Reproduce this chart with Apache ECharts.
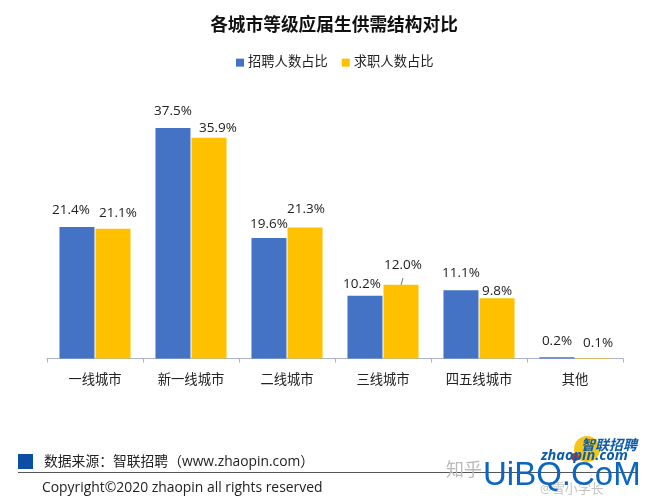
<!DOCTYPE html>
<html>
<head>
<meta charset="utf-8">
<style>html,body{margin:0;padding:0;background:#fff}#main{width:650px;height:500px}</style>
<script src="https://cdn.jsdelivr.net/npm/echarts@6/dist/echarts.min.js"></script>
</head>
<body>
<div id="main"></div>
<script>
var categories = ['一线城市', '新一线城市', '二线城市', '三线城市', '四五线城市', '其他'];
var recruitShare = [21.4, 37.5, 19.6, 10.2, 11.1, 0.2];
var seekerShare = [21.1, 35.9, 21.3, 12.0, 9.8, 0.1];
var seriesNames = ['招聘人数占比', '求职人数占比'];

// 标签手动错开，和原图一样
var recruitLabelShift = [[-6, -5], [0, -5], [0, -2], [-3, 0], [0, -5], [0, -4]];
var seekerLabelShift = [[5, -4], [9, 2], [1, -7], [2, -8], [0, 5], [5, -3]];

var cjk = '"Open Sans", "Noto Sans CJK SC", sans-serif';

function withLabels(values, shifts) {
    return values.map(function (v, i) {
        return {value: v, label: {offset: shifts[i]}};
    });
}

var myChart = echarts.init(document.getElementById('main'));
myChart.setOption({
    animation: false,
    backgroundColor: '#fff',
    title: {
        text: '各城市等级应届生供需结构对比',
        left: 329,
        textAlign: 'center',
        top: 12,
        textStyle: {fontFamily: cjk, fontSize: 17.7, fontWeight: 'bold', color: '#111'}
    },
    legend: {
        data: seriesNames,
        top: 51,
        left: 231,
        icon: 'rect',
        itemWidth: 8,
        itemHeight: 8,
        itemGap: 14,
        textStyle: {fontFamily: cjk, fontSize: 13.3, color: '#222', padding: [0, 0, 0, -1]}
    },
    grid: {left: 47, right: 27, top: 112.5, bottom: 141.5},
    xAxis: {
        type: 'category',
        data: categories,
        axisLine: {lineStyle: {color: '#a9b4d0'}},
        axisTick: {show: true, length: 4, lineStyle: {color: '#a9b4d0'}},
        axisLabel: {fontFamily: cjk, fontSize: 13.3, color: '#222', margin: 15}
    },
    yAxis: {type: 'value', min: 0, max: 40, show: false, splitLine: {show: false}},
    series: [
        {
            name: seriesNames[0],
            type: 'bar',
            barWidth: 35,
            barGap: '3%',
            itemStyle: {color: '#4472c4'},
            label: {show: true, position: 'top', fontFamily: cjk, fontSize: 13.5, color: '#222', formatter: function (p) { return p.value.toFixed(1) + '%'; }},
            data: withLabels(recruitShare, recruitLabelShift)
        },
        {
            name: seriesNames[1],
            type: 'bar',
            barWidth: 35,
            itemStyle: {color: '#ffc000'},
            label: {show: true, position: 'top', fontFamily: cjk, fontSize: 13.5, color: '#222', formatter: function (p) { return p.value.toFixed(1) + '%'; }},
            data: withLabels(seekerShare, seekerLabelShift)
        }
    ],
    graphic: [
        {type: 'line', shape: {x1: 403, y1: 278, x2: 401, y2: 285}, style: {stroke: '#777', lineWidth: 1}},
        {type: 'rect', shape: {x: 18, y: 454, width: 15, height: 15}, style: {fill: '#0b4ea2'}},
        {type: 'text', x: 44, y: 455, style: {text: '数据来源：智联招聘（www.zhaopin.com）', font: '13.8px ' + cjk, fill: '#222'}},
        {type: 'rect', shape: {x: 18, y: 472, width: 619, height: 1}, style: {fill: '#555'}},
        {type: 'text', x: 42, y: 481, style: {text: 'Copyright©2020 zhaopin all rights reserved', font: '13.9px ' + cjk, fill: '#222'}},
        // 右下角 logo 和水印
        {type: 'circle', shape: {cx: 587, cy: 449, r: 13}, style: {fill: '#f5c518'}},
        {type: 'circle', shape: {cx: 575, cy: 457, r: 4}, style: {fill: '#c8322b'}},
        {type: 'text', x: 581, y: 439, style: {text: '智联招聘', font: 'italic bold 14px ' + cjk, fill: '#0b5cab'}},
        {type: 'text', x: 541, y: 449, style: {text: 'zhaopin.com', font: 'italic bold 14.5px ' + cjk, fill: '#0b5cab'}},
        {type: 'text', x: 446, y: 462, style: {text: '知乎', font: '18px ' + cjk, fill: '#bbb'}},
        {type: 'text', x: 540, y: 483, style: {text: '@雪小学长', font: '13px ' + cjk, fill: '#c4c4c4'}},
        {type: 'text', x: 483, y: 459, style: {text: 'UiBQ.CoM', font: '33px "Liberation Sans", sans-serif', fill: '#0a66c2'}}
    ]
});
</script>
</body>
</html>
